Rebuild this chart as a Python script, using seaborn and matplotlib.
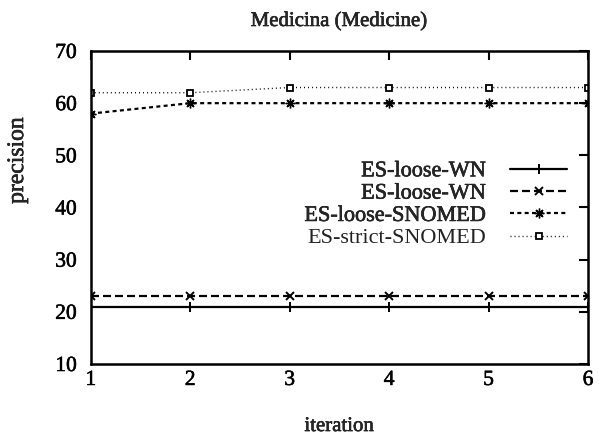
import matplotlib
matplotlib.use("Agg")
import matplotlib.pyplot as plt
import matplotlib.patheffects as pe
import seaborn as sns
import pandas as pd

# ---- data ----
iterations = [1, 2, 3, 4, 5, 6]
series_keys = ["s1", "s2", "s3", "s4"]
series_labels = ["ES-loose-WN", "ES-loose-WN", "ES-loose-SNOMED", "ES-strict-SNOMED"]
es_loose_wn_a = [21, 21, 21, 21, 21, 21]
es_loose_wn_b = [23, 23, 23, 23, 23, 23]
es_loose_snomed = [58, 60, 60, 60, 60, 60]
es_strict_snomed = [62, 62, 63, 63, 63, 63]
yticks = [10, 20, 30, 40, 50, 60, 70]
title = "Medicina (Medicine)"
xlabel = "iteration"
ylabel = "precision"

values = [es_loose_wn_a, es_loose_wn_b, es_loose_snomed, es_strict_snomed]
rows = []
for key, vals in zip(series_keys, values):
    for it, v in zip(iterations, vals):
        rows.append({"iteration": it, "precision": v, "series": key})
df = pd.DataFrame(rows)

sns.set_theme(style="white")
plt.rcParams["font.family"] = ["Liberation Serif", "DejaVu Serif"]

fig = plt.figure(figsize=(5.99, 4.36), dpi=100)
ax = fig.add_axes([90.7 / 599, 1 - 364 / 436, (588 - 90.7) / 599, (364 - 51) / 436])

lw = 1.6
palette = {"s1": "black", "s2": "black", "s3": "black", "s4": "black"}
dashes = {"s1": "", "s2": (3.6, 1.8), "s3": (1.8, 1.5), "s4": (0.7, 2.2)}
markers = {"s1": "+", "s2": "x", "s3": (8, 2, 0), "s4": "s"}

sns.lineplot(data=df, x="iteration", y="precision", hue="series", style="series",
             hue_order=series_keys, style_order=series_keys,
             palette=palette, dashes=dashes, markers=False,
             linewidth=lw, ax=ax, legend=False)

for line, key in zip(ax.lines, series_keys):
    line.set_marker(markers[key])
    line.set_markersize(6.5)
    line.set_markeredgecolor("black")
    line.set_markeredgewidth(1.4)
    if key == "s2":
        line.set_markersize(5.5)
    if key == "s3":
        line.set_markersize(7)
        line.set_markeredgewidth(1.0)
    if key == "s4":
        line.set_markerfacecolor("white")
        line.set_markersize(4.8)
        line.set_markeredgewidth(1.3)
        line.set_linewidth(1.0)

ax.set_xlim(1, 6)
ax.set_ylim(10, 70)
ax.set_xticks(iterations)
ax.set_yticks(yticks)
ax.tick_params(axis="both", direction="in", top=True, right=True, length=6.5,
               width=1.5, labelsize=15.5, colors="black")
ax.tick_params(axis="y", pad=10)
ax.tick_params(axis="x", pad=5)
for s in ax.spines.values():
    s.set_linewidth(1.8)
    s.set_color("black")
    s.set_visible(True)

heavy = [pe.withStroke(linewidth=0.4, foreground="black")]

ax.set_title(title, fontsize=15, pad=18)
ax.set_xlabel(xlabel, fontsize=15, labelpad=19.5)
ax.set_ylabel(ylabel, fontsize=17)
ax.yaxis.set_label_coords(-0.126, 0.65)

leg = ax.legend(ax.lines[:4], series_labels, loc="center right",
                bbox_to_anchor=(567 / 599, 1 - 204.5 / 436),
                bbox_transform=fig.transFigure, frameon=False, markerfirst=False,
                fontsize=16, handlelength=2.56, handletextpad=1.1,
                labelspacing=0.08, borderpad=0, borderaxespad=0)

texts = [ax.title, ax.xaxis.label, ax.yaxis.label] + ax.get_xticklabels() + ax.get_yticklabels()
for t in texts + leg.get_texts()[:3]:
    t.set_path_effects(heavy)
leg.get_texts()[3].set_color("#222222")

fig.savefig("out.png", dpi=100)
